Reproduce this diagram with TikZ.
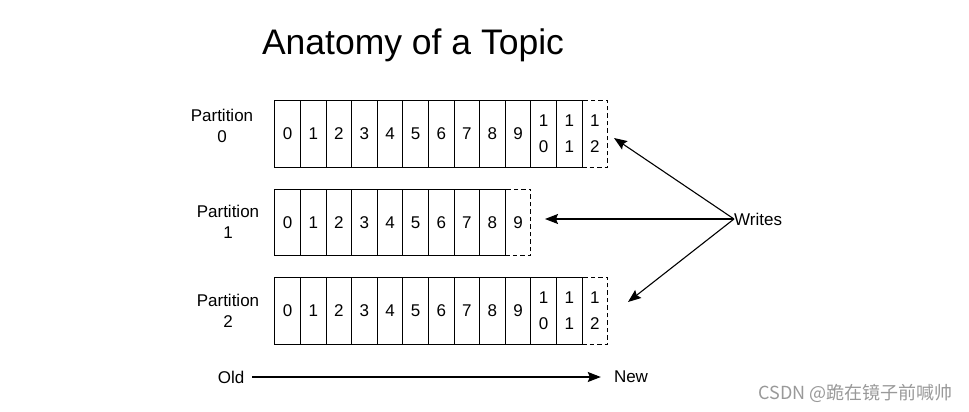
\documentclass[tikz,border=0pt]{standalone}
\usepackage{fontspec}
\setmainfont{Liberation Sans}
\newfontfamily\cjk{Noto Sans CJK SC}
\usetikzlibrary{arrows.meta}
\begin{document}
\begin{tikzpicture}[x=1pt,y=-1pt,
  cell/.style={draw,line width=1.1pt,minimum width=25.6pt,minimum height=66.8pt,anchor=north west,inner sep=0pt,align=center,font=\fontsize{17}{26}\selectfont},
  newcell/.style={cell,dashed,dash pattern=on 4.5pt off 3pt},
  lbl/.style={align=center,inner sep=0pt,font=\fontsize{17}{21}\selectfont},
  arr/.style={line width=1.1pt,-{Stealth[length=13pt,width=10pt,inset=2pt]}}]
\useasboundingbox (0,0) rectangle (969,412);
\node[inner sep=0pt,font=\fontsize{35.5}{40}\selectfont] (title) at (413,45) {Anatomy of a Topic};
% partition 0
\node[newcell] (p0n) at (581.5,100) {1\\2};
\foreach \i/\t in {0/0,1/1,2/2,3/3,4/4,5/5,6/6,7/7,8/8,9/9,10/{1\\0},11/{1\\1}}
  \node[cell] (p0c\i) at (274.3+\i*25.6,100) {\t};
% partition 1
\node[newcell] (p1n) at (504.7,188.5) {9};
\foreach \i in {0,...,8}
  \node[cell] (p1c\i) at (274.3+\i*25.6,188.5) {\i};
% partition 2
\node[newcell] (p2n) at (581.5,277) {1\\2};
\foreach \i/\t in {0/0,1/1,2/2,3/3,4/4,5/5,6/6,7/7,8/8,9/9,10/{1\\0},11/{1\\1}}
  \node[cell] (p2c\i) at (274.3+\i*25.6,277) {\t};
% labels
\node[lbl] (l0) at (222,126) {Partition\\0};
\node[lbl] (l1) at (228,222) {Partition\\1};
\node[lbl] (l2) at (228,310.5) {Partition\\2};
% writes
\node[lbl,anchor=west] (w) at (734,219) {Writes};
\coordinate (t0) at (614,138);
\coordinate (t1) at (545,219);
\coordinate (t2) at (628,302);
\draw[arr] (w.west) -- (t0);
\draw[arr] (w.west) -- (t1);
\draw[arr] (w.west) -- (t2);
% old -> new
\node[lbl] (old) at (231,377) {Old};
\node[lbl] (new) at (631,377) {New};
\draw[arr] (old.east) ++(8,0) -- ([xshift=-13pt]new.west);
% watermark
\node[inner sep=0pt,text=black!40,font=\fontsize{18}{20}\selectfont\cjk,anchor=east] (wm) at (953,393) {CSDN @跪在镜子前喊帅};
\end{tikzpicture}
\end{document}
